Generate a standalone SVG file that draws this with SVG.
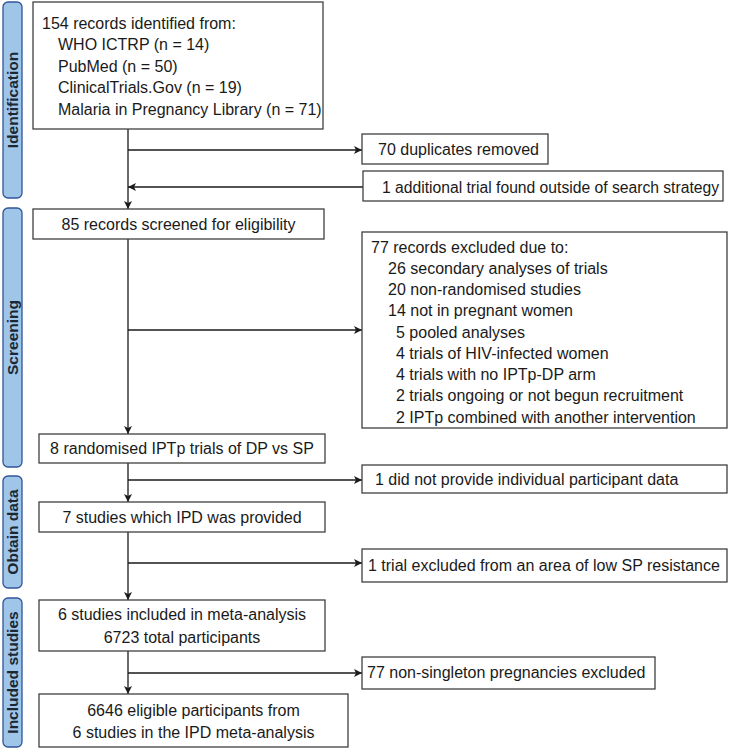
<svg xmlns="http://www.w3.org/2000/svg" width="729" height="749" viewBox="0 0 729 749">
<defs>
<style>
.box{fill:#fff;stroke:#404040;stroke-width:1.3}
.bar{fill:#9FC5E8;stroke:#2F5597;stroke-width:1.3}
.t{font-family:"Liberation Sans",Arial,sans-serif;font-size:16px;fill:#1a1a1a}
.c{text-anchor:middle}
.lab{font-family:"Liberation Sans",Arial,sans-serif;font-size:15.5px;font-weight:bold;fill:#1A2836;text-anchor:middle}
.ln{stroke:#1a1a1a;stroke-width:1.3;fill:none}
.ar{marker-end:url(#ah)}
</style>
<marker id="ah" markerUnits="userSpaceOnUse" markerWidth="9" markerHeight="9" refX="8" refY="4.5" orient="auto">
<path d="M0,0.5 L8,4.5 L0,8.5 L2,4.5 Z" fill="#1a1a1a"/>
</marker>
</defs>

<g id="phases">
<g id="phase-identification"><rect class="bar" x="3" y="2" width="19" height="196" rx="5"/><text class="lab" transform="translate(17.5,100) rotate(-90)">Identification</text></g>
<g id="phase-screening"><rect class="bar" x="3" y="208" width="19" height="259" rx="5"/><text class="lab" transform="translate(17.5,337.5) rotate(-90)">Screening</text></g>
<g id="phase-obtain"><rect class="bar" x="3" y="476" width="19" height="112" rx="5"/><text class="lab" transform="translate(17.5,532) rotate(-90)">Obtain data</text></g>
<g id="phase-included"><rect class="bar" x="3" y="598" width="19" height="149" rx="5"/><text class="lab" transform="translate(17.5,672.5) rotate(-90)">Included studies</text></g>
</g>

<g id="connectors">
<line class="ln ar" x1="128" y1="129" x2="128" y2="209"/>
<line class="ln ar" x1="128" y1="150" x2="362" y2="150"/>
<line class="ln ar" x1="363" y1="187" x2="128" y2="187"/>
<line class="ln ar" x1="128" y1="239" x2="128" y2="434"/>
<line class="ln ar" x1="128" y1="330" x2="362" y2="330"/>
<line class="ln ar" x1="128" y1="463" x2="128" y2="502"/>
<line class="ln ar" x1="128" y1="480" x2="362" y2="480"/>
<line class="ln ar" x1="128" y1="532" x2="128" y2="600"/>
<line class="ln ar" x1="128" y1="563" x2="362" y2="563"/>
<line class="ln ar" x1="128" y1="651" x2="128" y2="694"/>
<line class="ln ar" x1="128" y1="673" x2="362" y2="673"/>
</g>

<g id="n-records">
<rect class="box" x="33" y="2" width="290" height="127"/>
<text class="t" x="42" y="28.5">154 records identified from:</text>
<text class="t" x="58" y="50">WHO ICTRP (n = 14)</text>
<text class="t" x="58" y="71.5">PubMed (n = 50)</text>
<text class="t" x="58" y="93">ClinicalTrials.Gov (n = 19)</text>
<text class="t" x="58" y="114.5">Malaria in Pregnancy Library (n = 71)</text>
</g>

<g id="n-duplicates">
<rect class="box" x="362" y="134" width="186" height="30"/>
<text class="t" x="378" y="154.5">70 duplicates removed</text>
</g>

<g id="n-additional">
<rect class="box" x="363" y="171" width="360" height="30"/>
<text class="t" x="382" y="192.5" textLength="337" lengthAdjust="spacingAndGlyphs">1 additional trial found outside of search strategy</text>
</g>

<g id="n-screened">
<rect class="box" x="33" y="209" width="291" height="30"/>
<text class="t c" x="178.5" y="229.5">85 records screened for eligibility</text>
</g>

<g id="n-excluded">
<rect class="box" x="362" y="232" width="365" height="196"/>
<text class="t" x="371" y="252.5">77 records excluded due to:</text>
<text class="t" x="388" y="273.8">26 secondary analyses of trials</text>
<text class="t" x="388" y="295">20 non-randomised studies</text>
<text class="t" x="388" y="316.3">14 not in pregnant women</text>
<text class="t" x="396" y="337.5">5 pooled analyses</text>
<text class="t" x="396" y="358.8">4 trials of HIV-infected women</text>
<text class="t" x="396" y="380">4 trials with no IPTp-DP arm</text>
<text class="t" x="396" y="401.3">2 trials ongoing or not begun recruitment</text>
<text class="t" x="396" y="422.5">2 IPTp combined with another intervention</text>
</g>

<g id="n-randomised">
<rect class="box" x="39" y="434" width="286" height="29"/>
<text class="t c" x="182" y="454">8 randomised IPTp trials of DP vs SP</text>
</g>

<g id="n-noipd">
<rect class="box" x="362" y="465" width="365" height="28"/>
<text class="t" x="375" y="484.5">1 did not provide individual participant data</text>
</g>

<g id="n-ipd">
<rect class="box" x="39" y="502" width="286" height="30"/>
<text class="t c" x="182" y="522.5">7 studies which IPD was provided</text>
</g>

<g id="n-lowsp">
<rect class="box" x="362" y="549" width="365" height="33"/>
<text class="t" x="368" y="571">1 trial excluded from an area of low SP resistance</text>
</g>

<g id="n-meta">
<rect class="box" x="39" y="600" width="286" height="51"/>
<text class="t c" x="182" y="619.5">6 studies included in meta-analysis</text>
<text class="t c" x="182" y="642.5">6723 total participants</text>
</g>

<g id="n-nonsingleton">
<rect class="box" x="362" y="657" width="293" height="32"/>
<text class="t" x="367" y="678">77 non-singleton pregnancies excluded</text>
</g>

<g id="n-final">
<rect class="box" x="39" y="694" width="309" height="53"/>
<text class="t c" x="193.5" y="715.5">6646 eligible participants from</text>
<text class="t c" x="193.5" y="737.5">6 studies in the IPD meta-analysis</text>
</g>
</svg>
